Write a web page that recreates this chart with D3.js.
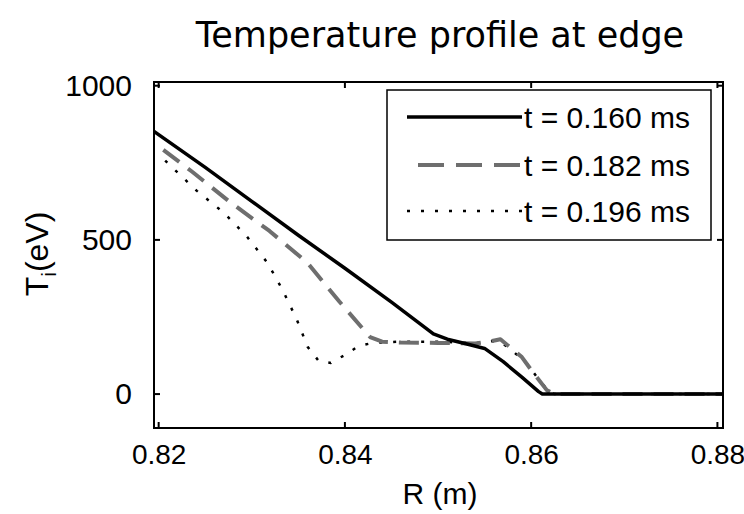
<!DOCTYPE html>
<html>
<head>
<meta charset="utf-8">
<script src="https://cdn.jsdelivr.net/npm/d3@7"></script>
<style>
  body { margin: 0; background: #fff; }
  svg { display: block; }
</style>
</head>
<body>
<script>
// ----- DATA -----
var seriesNames = ["t = 0.160 ms", "t = 0.182 ms", "t = 0.196 ms"];
var xTicks = [0.82, 0.84, 0.86, 0.88];
var yTicks = [0, 500, 1000];

// R (m), Ti (eV)
var t160 = [[0.8195, 852], [0.825, 735], [0.830, 625], [0.835, 515], [0.840, 408],
  [0.845, 298], [0.8495, 195], [0.851, 178], [0.853, 163], [0.855, 148],
  [0.857, 105], [0.859, 55], [0.8608, 8], [0.8612, 0], [0.8806, 0]];
var t182 = [[0.8205, 792], [0.8236, 721], [0.8276, 624], [0.8319, 529], [0.836, 425],
  [0.8394, 300], [0.8427, 185], [0.844, 170], [0.846, 167], [0.850, 166],
  [0.854, 164], [0.8558, 172], [0.8567, 178], [0.8578, 150], [0.859, 120],
  [0.8602, 70], [0.8617, 12], [0.8625, 0], [0.8806, 0]];
var t196 = [[0.8207, 757], [0.8241, 659], [0.827, 588], [0.8295, 510], [0.8317, 425],
  [0.8333, 338], [0.8348, 244], [0.836, 153], [0.8372, 107], [0.8385, 101],
  [0.84, 127], [0.8415, 156], [0.843, 166], [0.846, 170], [0.850, 170],
  [0.854, 165], [0.8558, 172], [0.8567, 170], [0.858, 140], [0.8595, 100],
  [0.861, 40], [0.862, 5], [0.8625, 0], [0.8806, 0]];

var W = 744, H = 514;
var plotL = 154, plotR = 723, plotT = 82, plotB = 428;

var svg = d3.select("body").append("svg")
  .attr("width", W)
  .attr("height", H)
  .style("font-family", "'Liberation Sans', Arial, sans-serif");

var x = d3.scaleLinear().domain([0.8195, 0.8806]).range([plotL, plotR]);
var y = d3.scaleLinear().domain([-110, 1012]).range([plotB, plotT]);

// title
svg.append("text")
  .attr("x", 440).attr("y", 47)
  .attr("text-anchor", "middle")
  .style("font-family", "'DejaVu Sans', Verdana, sans-serif")
  .style("font-size", "35px")
  .text("Temperature profile at edge");

// clip for lines
svg.append("clipPath").attr("id", "clip")
  .append("rect").attr("x", plotL).attr("y", plotT)
  .attr("width", plotR - plotL).attr("height", plotB - plotT);

var line = d3.line()
  .x(function(d) { return x(d[0]); })
  .y(function(d) { return y(d[1]); });

var styles = [
  { color: "#000", width: 3.5, dash: null },
  { color: "#6e6e6e", width: 4, dash: "20,11" },
  { color: "#000", width: 2.5, dash: "3,11" }
];
var allSeries = [t160, t182, t196];

var lines = svg.append("g").attr("clip-path", "url(#clip)");
[2, 1, 0].forEach(function(i) {
  lines.append("path")
    .datum(allSeries[i])
    .attr("d", line)
    .attr("fill", "none")
    .attr("stroke", styles[i].color)
    .attr("stroke-width", styles[i].width)
    .attr("stroke-dasharray", styles[i].dash)
    .attr("stroke-linejoin", "round");
});

// axes (inside ticks, box)
var tickLen = 6;
var fontSize = 30;

var xAxis = d3.axisBottom(x).tickValues(xTicks).tickSize(0).tickPadding(16)
  .tickFormat(d3.format(".2f"));
var gx = svg.append("g").attr("transform", "translate(0," + plotB + ")").call(xAxis);
gx.select(".domain").remove();
gx.selectAll("text").style("font-size", "28px").attr("dy", "0.72em");

var yAxis = d3.axisLeft(y).tickValues(yTicks).tickSize(0).tickPadding(22)
  .tickFormat(d3.format("d"));
var gy = svg.append("g").attr("transform", "translate(" + plotL + ",0)").call(yAxis);
gy.select(".domain").remove();
gy.selectAll("text").style("font-size", fontSize + "px");

var ticks = svg.append("g").attr("stroke", "#000").attr("stroke-width", 2);
xTicks.forEach(function(v) {
  ticks.append("line").attr("x1", x(v)).attr("x2", x(v)).attr("y1", plotB).attr("y2", plotB - tickLen);
  ticks.append("line").attr("x1", x(v)).attr("x2", x(v)).attr("y1", plotT).attr("y2", plotT + tickLen);
});
yTicks.forEach(function(v) {
  ticks.append("line").attr("x1", plotL).attr("x2", plotL + tickLen).attr("y1", y(v)).attr("y2", y(v));
  ticks.append("line").attr("x1", plotR).attr("x2", plotR - tickLen).attr("y1", y(v)).attr("y2", y(v));
});

svg.append("rect")
  .attr("x", plotL).attr("y", plotT)
  .attr("width", plotR - plotL).attr("height", plotB - plotT)
  .attr("fill", "none").attr("stroke", "#000").attr("stroke-width", 2);

// axis labels
svg.append("text")
  .attr("x", 440).attr("y", 504)
  .attr("text-anchor", "middle")
  .style("font-size", fontSize + "px")
  .text("R (m)");

var yl = svg.append("text")
  .attr("transform", "translate(48,254) rotate(-90)")
  .attr("text-anchor", "middle")
  .style("font-size", "32px");
yl.append("tspan").text("T");
yl.append("tspan").attr("dy", 8).style("font-size", "21px").text("i");
yl.append("tspan").attr("dy", -8).text("(eV)");

// legend
var legend = svg.append("g");
legend.append("rect")
  .attr("x", 387).attr("y", 90).attr("width", 324).attr("height", 150)
  .attr("fill", "#fff").attr("stroke", "#000").attr("stroke-width", 1.5);

var rowY = [117, 165, 211];
seriesNames.forEach(function(name, i) {
  legend.append("line")
    .attr("x1", i === 1 ? 418 : 407).attr("x2", 522)
    .attr("y1", rowY[i]).attr("y2", rowY[i])
    .attr("stroke", styles[i].color)
    .attr("stroke-width", styles[i].width)
    .attr("stroke-dasharray", i === 1 ? "26,12" : styles[i].dash);
  legend.append("text")
    .attr("x", 524).attr("y", rowY[i])
    .attr("dy", "0.36em")
    .style("font-size", fontSize + "px")
    .text(name);
});
</script>
</body>
</html>
